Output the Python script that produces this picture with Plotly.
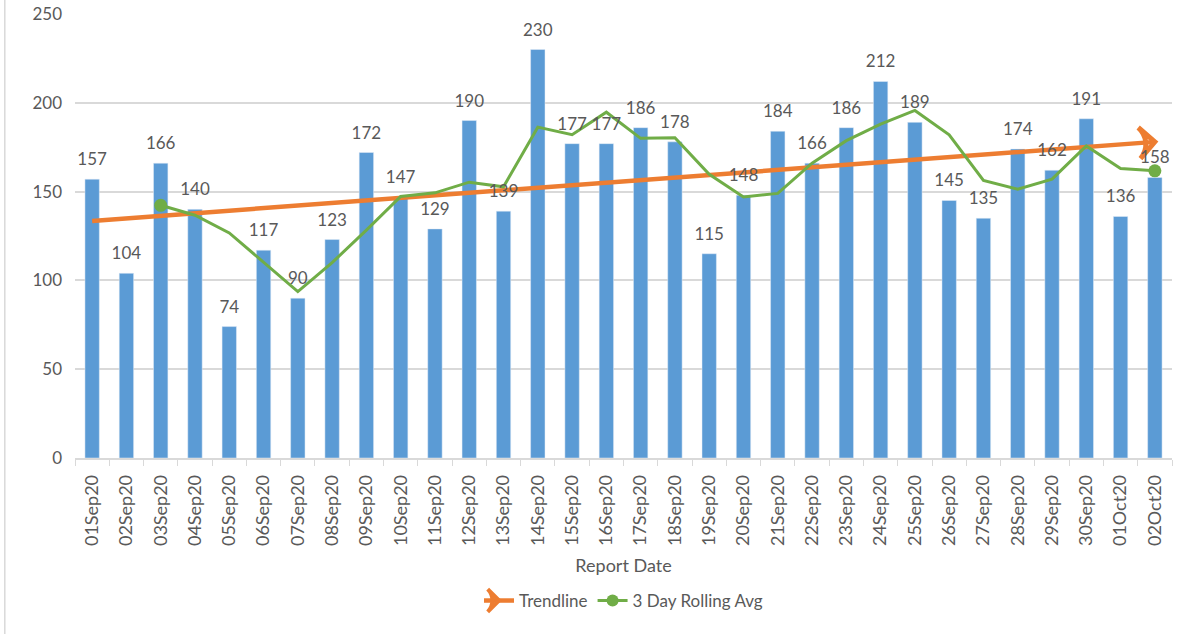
import plotly.graph_objects as go

# daily report counts, 01 Sep 2020 - 02 Oct 2020
report_dates = [
    "01Sep20", "02Sep20", "03Sep20", "04Sep20", "05Sep20", "06Sep20", "07Sep20", "08Sep20",
    "09Sep20", "10Sep20", "11Sep20", "12Sep20", "13Sep20", "14Sep20", "15Sep20", "16Sep20",
    "17Sep20", "18Sep20", "19Sep20", "20Sep20", "21Sep20", "22Sep20", "23Sep20", "24Sep20",
    "25Sep20", "26Sep20", "27Sep20", "28Sep20", "29Sep20", "30Sep20", "01Oct20", "02Oct20",
]
daily_counts = [
    157, 104, 166, 140, 74, 117, 90, 123, 172, 147, 129, 190, 139, 230, 177, 177,
    186, 178, 115, 148, 184, 166, 186, 212, 189, 145, 135, 174, 162, 191, 136, 158,
]

# 3 day rolling average, starts on the 3rd day
rolling_dates = report_dates[2:]
rolling_avg = [
    142.3, 136.7, 126.7, 110.3, 93.7, 110.0, 128.3, 147.3, 149.3, 155.3, 152.7, 186.3,
    182.0, 194.7, 180.0, 180.3, 159.7, 147.0, 149.0, 166.0, 178.7, 188.0, 195.7, 182.0,
    156.3, 151.3, 157.0, 175.7, 163.0, 161.7,
]

# linear trendline, first and last day
trend_dates = [report_dates[0], report_dates[-1]]
trend_values = [133.5, 178.0]

y_ticks = [0, 50, 100, 150, 200, 250]

BLUE = "#5B9BD5"
ORANGE = "#ED7D31"
GREEN = "#70AD47"
GRID = "#D9D9D9"
TEXT = "#595959"
FONT = "Lato"

fig = go.Figure()

fig.add_trace(go.Bar(
    x=report_dates,
    y=daily_counts,
    marker_color=BLUE,
    width=0.42,
    showlegend=False,
    hoverinfo="x+y",
))

# trendline with an arrow head on the last point
fig.add_trace(go.Scatter(
    x=trend_dates,
    y=trend_values,
    mode="lines+markers",
    line=dict(color=ORANGE, width=4.5),
    marker=dict(
        symbol=["circle", "arrow-wide-open"],
        size=[0, 22],
        angleref="previous",
        color=ORANGE,
        opacity=1,
        line=dict(color=ORANGE, width=5),
    ),
    showlegend=False,
))

fig.add_trace(go.Scatter(
    x=rolling_dates,
    y=rolling_avg,
    mode="lines+markers",
    line=dict(color=GREEN, width=3),
    marker=dict(
        color=GREEN,
        opacity=1,
        size=[13] + [0] * (len(rolling_avg) - 2) + [13],
        line=dict(width=0),
    ),
    showlegend=False,
))

# bar value labels, drawn on top of the lines like the original
fig.add_trace(go.Scatter(
    x=report_dates,
    y=daily_counts,
    mode="markers+text",
    text=daily_counts,
    textposition="top center",
    textfont=dict(size=17, color=TEXT, family=FONT),
    marker=dict(size=14, color="rgba(0,0,0,0)"),
    cliponaxis=False,
    showlegend=False,
    hoverinfo="skip",
))

# legend entries
fig.add_trace(go.Scatter(
    x=[None], y=[None],
    mode="lines+markers",
    name="Trendline",
    line=dict(color=ORANGE, width=4.5),
    marker=dict(symbol="arrow-wide-open", angle=90, size=16, color=ORANGE,
                line=dict(color=ORANGE, width=4)),
))
fig.add_trace(go.Scatter(
    x=[None], y=[None],
    mode="lines+markers",
    name="3 Day Rolling Avg",
    line=dict(color=GREEN, width=3),
    marker=dict(color=GREEN, size=12),
))

fig.update_layout(
    width=1200,
    height=634,
    margin=dict(l=75, r=28, t=14, b=176),
    plot_bgcolor="white",
    paper_bgcolor="white",
    font=dict(family=FONT, color=TEXT),
    legend=dict(
        orientation="h",
        x=0.5,
        xanchor="center",
        y=-0.322,
        yanchor="middle",
        font=dict(size=17, color=TEXT, family=FONT),
    ),
    shapes=[dict(
        type="line", xref="paper", yref="paper",
        x0=-0.064, x1=-0.064, y0=-0.4, y1=1.04,
        line=dict(color=GRID, width=1.5),
    )],
)

fig.update_xaxes(
    type="category",
    range=[-0.5, len(report_dates) - 0.5],
    automargin=False,
    tickangle=-90,
    tickfont=dict(size=18, color=TEXT, family=FONT),
    ticklabelstandoff=8,
    showline=True,
    linecolor=GRID,
    linewidth=1.5,
    ticks="outside",
    tickson="boundaries",
    ticklen=6,
    tickcolor=GRID,
    title=dict(text="Report Date", font=dict(size=18, color=TEXT, family=FONT), standoff=14),
)

fig.update_yaxes(
    range=[0, 250],
    automargin=False,
    tickvals=y_ticks,
    tickfont=dict(size=17, color=TEXT, family=FONT),
    showgrid=True,
    gridcolor=GRID,
    gridwidth=1.5,
    zeroline=False,
    ticks="",
    ticklabelstandoff=12,
)

fig.write_html(
    "out.html",
    config={"displayModeBar": False},
    post_script="document.body.style.margin='0';",
)
